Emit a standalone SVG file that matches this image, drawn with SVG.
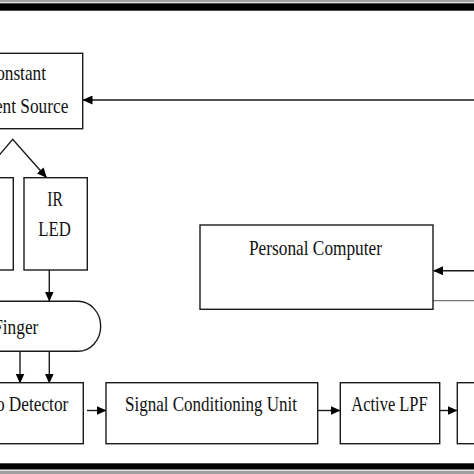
<svg xmlns="http://www.w3.org/2000/svg" width="474" height="474" viewBox="0 0 474 474">
<style>
.box{fill:#fff;stroke:#1a1a1a;stroke-width:1.4}
.t{font-family:"Liberation Serif","Times New Roman",serif;font-size:21px;fill:#111}
.c{fill:none;stroke:#1a1a1a;stroke-width:1.4}
</style>
<defs>
<marker id="ah" markerUnits="userSpaceOnUse" markerWidth="10" markerHeight="9" refX="9.5" refY="4.5" orient="auto">
<path d="M0,0 L10,4.5 L0,9 z" fill="#000"/>
</marker>
</defs>
<rect x="0" y="0" width="474" height="474" fill="#fff"/>
<rect x="0" y="0" width="474" height="2.3" fill="#a0a0a0"/>
<rect x="0" y="3.3" width="474" height="7.4" fill="#000"/>
<rect x="0" y="463.3" width="474" height="6.2" fill="#000"/>
<rect x="0" y="470.7" width="474" height="3.3" fill="#a0a0a0"/>

<g id="connectors">
<line class="c" x1="474" y1="100" x2="83" y2="100" marker-end="url(#ah)"/>
<polyline class="c" points="-4,159 12.7,139.3 46.5,177.5" marker-end="url(#ah)"/>
<line class="c" x1="49.3" y1="270" x2="49.3" y2="301" marker-end="url(#ah)"/>
<line class="c" x1="20" y1="351" x2="20" y2="383" marker-end="url(#ah)"/>
<line class="c" x1="49.3" y1="351" x2="49.3" y2="383" marker-end="url(#ah)"/>
<line class="c" x1="87" y1="410.5" x2="106" y2="410.5" marker-end="url(#ah)"/>
<line class="c" x1="318" y1="410.5" x2="340" y2="410.5" marker-end="url(#ah)"/>
<line class="c" x1="440" y1="410.5" x2="457" y2="410.5" marker-end="url(#ah)"/>
<line class="c" x1="474" y1="270.7" x2="433.5" y2="270.7" marker-end="url(#ah)"/>
<line x1="433" y1="300.7" x2="474" y2="300.7" stroke="#777" stroke-width="1.2"/>
</g>

<g id="constant-current-source">
<rect class="box" x="-50" y="53.3" width="132.7" height="75.4"/>
<text class="t" x="-15.4" y="80" textLength="61.4" lengthAdjust="spacingAndGlyphs">Constant</text>
<text class="t" x="-36.8" y="112.7" textLength="105.1" lengthAdjust="spacingAndGlyphs">Current Source</text>
</g>

<g id="red-led">
<rect class="box" x="-50" y="177.7" width="63.3" height="92.3"/>
</g>

<g id="ir-led">
<rect class="box" x="24" y="177.7" width="63.3" height="92.3"/>
<text class="t" x="55" y="206" text-anchor="middle" textLength="15.5" lengthAdjust="spacingAndGlyphs">IR</text>
<text class="t" x="54.5" y="236" text-anchor="middle" textLength="32.5" lengthAdjust="spacingAndGlyphs">LED</text>
</g>

<g id="finger">
<path class="box" d="M-50,301.3 L78,301.3 A22.7,25 0 0 1 78,351.3 L-50,351.3 z"/>
<text class="t" x="-6.8" y="333.7" textLength="45.1" lengthAdjust="spacingAndGlyphs">Finger</text>
</g>

<g id="personal-computer">
<rect class="box" x="200" y="225" width="233" height="84.3"/>
<text class="t" x="249" y="255" textLength="133" lengthAdjust="spacingAndGlyphs">Personal Computer</text>
</g>

<g id="photo-detector">
<rect class="box" x="-50" y="382.7" width="133.3" height="61"/>
<text class="t" x="-35.8" y="410.5" textLength="104.1" lengthAdjust="spacingAndGlyphs">Photo Detector</text>
</g>

<g id="signal-conditioning-unit">
<rect class="box" x="106" y="382.7" width="211.7" height="61"/>
<text class="t" x="125" y="411" textLength="172" lengthAdjust="spacingAndGlyphs">Signal Conditioning Unit</text>
</g>

<g id="active-lpf">
<rect class="box" x="340.3" y="382.7" width="99.4" height="61"/>
<text class="t" x="351.3" y="410.5" textLength="76.4" lengthAdjust="spacingAndGlyphs">Active LPF</text>
</g>

<g id="next-block">
<rect class="box" x="457.3" y="382.7" width="60" height="61"/>
</g>
</svg>
